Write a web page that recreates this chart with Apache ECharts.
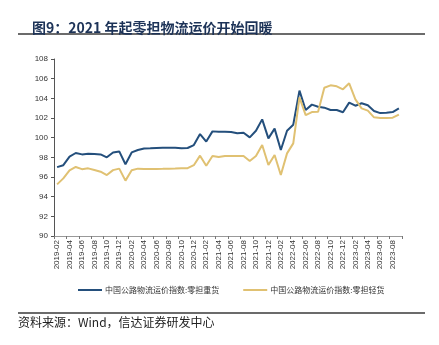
<!DOCTYPE html>
<html>
<head>
<meta charset="utf-8">
<script src="https://cdn.jsdelivr.net/npm/echarts@6/dist/echarts.min.js"></script>
<style>
  html, body { margin: 0; padding: 0; background: #fff; }
  #chart { width: 439px; height: 345px; }
</style>
</head>
<body>
<div id="chart"></div>
<script>
// Monthly categories, 2019-02 .. 2023-09
const months = [
  '2019-02','2019-03','2019-04','2019-05','2019-06','2019-07','2019-08','2019-09','2019-10','2019-11','2019-12',
  '2020-01','2020-02','2020-03','2020-04','2020-05','2020-06','2020-07','2020-08','2020-09','2020-10','2020-11','2020-12',
  '2021-01','2021-02','2021-03','2021-04','2021-05','2021-06','2021-07','2021-08','2021-09','2021-10','2021-11','2021-12',
  '2022-01','2022-02','2022-03','2022-04','2022-05','2022-06','2022-07','2022-08','2022-09','2022-10','2022-11','2022-12',
  '2023-01','2023-02','2023-03','2023-04','2023-05','2023-06','2023-07','2023-08','2023-09'
];

// 中国公路物流运价指数:零担重货
const heavyFreight = [
  97.0, 97.2, 98.07, 98.44, 98.3, 98.37, 98.34, 98.3, 98.0, 98.5, 98.6,
  97.3, 98.5, 98.75, 98.9, 98.92, 98.95, 98.98, 98.98, 98.98, 98.92, 98.95, 99.25,
  100.37, 99.6, 100.64, 100.6, 100.6, 100.58, 100.44, 100.5, 100.03, 100.7, 101.86, 99.93,
  100.92, 98.75, 100.71, 101.32, 104.78, 102.81, 103.36, 103.15, 103.05, 102.81, 102.81, 102.58,
  103.56, 103.25, 103.5, 103.29, 102.71, 102.5, 102.54, 102.6, 102.98
];

// 中国公路物流运价指数:零担轻货
const lightFreight = [
  95.25, 95.86, 96.68, 97.02, 96.8, 96.88, 96.71, 96.54, 96.2, 96.7, 96.85,
  95.63, 96.68, 96.85, 96.81, 96.81, 96.82, 96.83, 96.85, 96.86, 96.88, 96.9, 97.2,
  98.17, 97.15, 98.14, 98.03, 98.14, 98.14, 98.14, 98.14, 97.63, 98.14, 99.25, 97.22,
  98.24, 96.2, 98.4, 99.42, 104.1, 102.3, 102.6, 102.64, 105.08, 105.32, 105.22, 104.92,
  105.53, 103.9, 102.98, 102.75, 102.07, 102.0, 102.0, 102.03, 102.34
];

const seriesNames = ['中国公路物流运价指数:零担重货', '中国公路物流运价指数:零担轻货'];
const titleText = '图9：2021 年起零担物流运价开始回暖';
const sourceText = '资料来源：Wind，信达证券研发中心';

const chart = echarts.init(document.getElementById('chart'), null, { renderer: 'canvas' });

chart.setOption({
  animation: false,
  backgroundColor: '#ffffff',
  title: {
    text: titleText,
    left: 27,
    top: 16,
    textStyle: {
      fontFamily: 'Noto Sans CJK SC',
      fontSize: 14,
      fontWeight: 'bold',
      color: '#1d3358'
    }
  },
  graphic: [
    {
      type: 'rect',
      shape: { x: 18, y: 33, width: 407, height: 2 },
      style: { fill: '#6b6b6b' }
    },
    {
      type: 'rect',
      shape: { x: 18, y: 312, width: 407, height: 2 },
      style: { fill: '#6b6b6b' }
    },
    {
      type: 'text',
      left: 18,
      top: 316,
      style: {
        text: sourceText,
        font: '12px "Noto Sans CJK SC"',
        fill: '#222'
      }
    }
  ],
  legend: {
    left: 73,
    top: 281,
    itemGap: 24,
    itemWidth: 24,
    itemHeight: 2,
    icon: 'rect',
    textStyle: {
      fontFamily: 'Noto Sans CJK SC',
      fontSize: 8,
      color: '#333',
      padding: [0, 0, 0, -2]
    },
    data: seriesNames
  },
  grid: {
    left: 54,
    right: 37,
    top: 59,
    bottom: 109,
    containLabel: false
  },
  xAxis: {
    type: 'category',
    data: months,
    boundaryGap: true,
    axisLine: { lineStyle: { color: '#999', width: 1 } },
    axisTick: { show: true, interval: 1, length: 3, lineStyle: { color: '#777' } },
    axisLabel: {
      interval: 1,
      rotate: 90,
      margin: 4,
      fontFamily: 'Liberation Sans',
      fontSize: 8,
      color: '#333'
    },
    splitLine: { show: false }
  },
  yAxis: {
    type: 'value',
    min: 90,
    max: 108,
    interval: 2,
    axisLine: { show: true, lineStyle: { color: '#555', width: 1 } },
    axisTick: { show: true, length: 3, lineStyle: { color: '#555' } },
    axisLabel: {
      margin: 6,
      fontFamily: 'Liberation Sans',
      fontSize: 8,
      color: '#333'
    },
    splitLine: { show: false }
  },
  series: [
    {
      name: seriesNames[0],
      type: 'line',
      data: heavyFreight,
      showSymbol: false,
      symbol: 'none',
      lineStyle: { color: '#244f7c', width: 2 },
      itemStyle: { color: '#244f7c' }
    },
    {
      name: seriesNames[1],
      type: 'line',
      data: lightFreight,
      showSymbol: false,
      symbol: 'none',
      lineStyle: { color: '#e0c172', width: 2 },
      itemStyle: { color: '#e0c172' }
    }
  ]
});
</script>
</body>
</html>
